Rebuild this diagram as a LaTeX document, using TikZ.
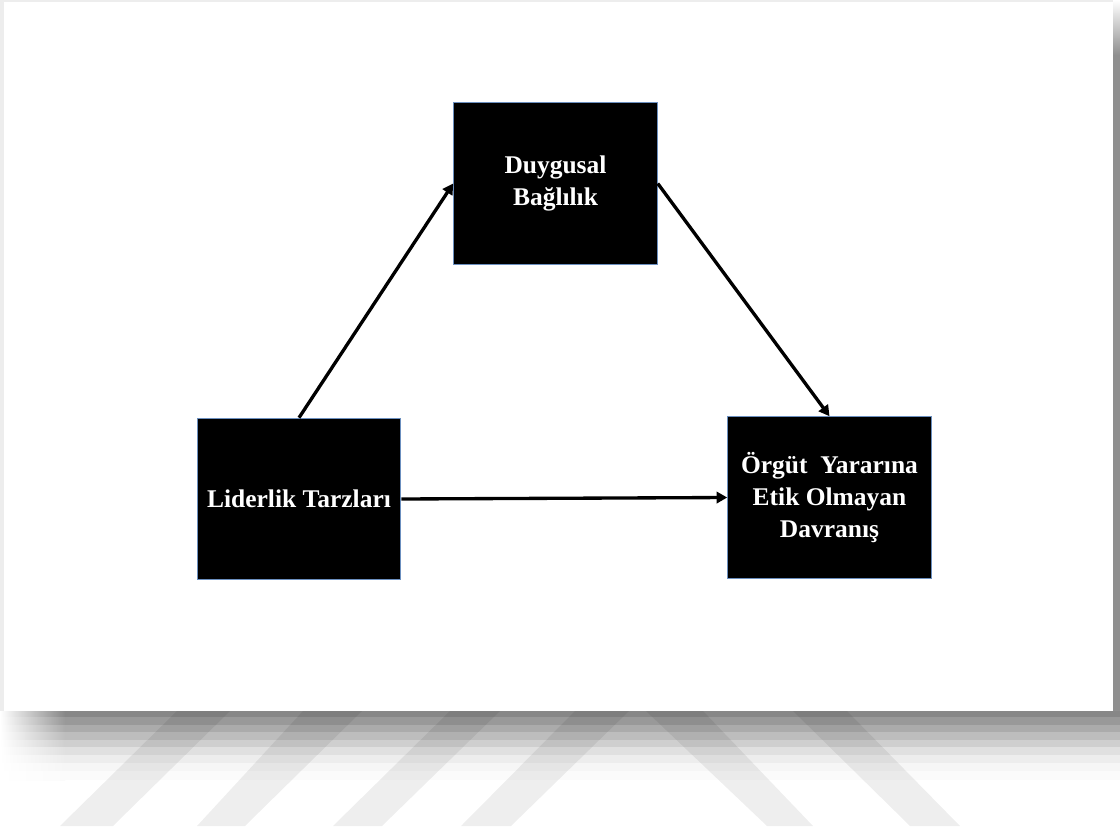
\documentclass[tikz,border=0pt]{standalone}
\usepackage{fontspec}
\setmainfont{Liberation Serif}
\usetikzlibrary{arrows.meta}
\definecolor{boxedge}{HTML}{6B8FBF}
\tikzset{
  conceptbox/.style={draw=boxedge, line width=0.9pt, fill=black, text=white,
    font=\bfseries\fontsize{19.1}{24}\selectfont, align=center, inner sep=0pt,
    minimum width=152.5pt, minimum height=121pt},
  link/.style={line width=2.5pt, -{Triangle[length=8pt,width=8.5pt]}},
  stripe/.style={fill=black, fill opacity=0.065},
}
\begin{document}
\begin{tikzpicture}[x=0.75pt,y=-0.75pt]
\useasboundingbox (0,0) rectangle (1120,831);
\fill[white] (0,0) rectangle (1120,831);

% drop shadow of the sheet: right edge
\shade[top color=white, bottom color=black!44] (1113,0) rectangle (1120,55);
\fill[black!44] (1113,55) rectangle (1120,711);

% drop shadow of the sheet: stepped bands under the bottom edge
\foreach \ya/\yb/\g in {711/717/47, 717/725/40, 725/732/33, 732/740/26,
                        740/747/19, 747/755/12, 755/763/7, 763/771/3.5, 771/780/1.5} {
  \fill[black!\g] (65,\ya) rectangle (1120,\yb);
  \shade[left color=white, right color=black!\g] (0,\ya) rectangle (65,\yb);
}

% faint diagonal stripes below the sheet
\fill[stripe] (60,826) -- (113,826) -- (230,711) -- (177,711) -- cycle;
\fill[stripe] (197,826) -- (245,826) -- (362,711) -- (303,711) -- cycle;
\fill[stripe] (333,826) -- (382,826) -- (500,711) -- (450,711) -- cycle;
\fill[stripe] (461,826) -- (511,826) -- (629,711) -- (575,711) -- cycle;
\fill[stripe] (767,826) -- (813,826) -- (703,711) -- (646,711) -- cycle;
\fill[stripe] (910,826) -- (960,826) -- (847,711) -- (793,711) -- cycle;

% the sheet
\fill[black!7] (0,0) rectangle (1113,711);
\fill[white] (4,2) rectangle (1113,711);

% concept boxes
\node[conceptbox] (bag) at (555.5,183.5) {Duygusal\\Bağlılık};
\node[conceptbox] (lid) at (299,499) {Liderlik Tarzları};
\node[conceptbox] (etik) at (829.5,497.5) {Örgüt~~Yararına\\Etik Olmayan\\Davranış};

% relations
\draw[link] (lid.north) -- (bag.west);
\draw[link] (bag.east) -- (etik.north);
\draw[link] (lid.east) -- (etik.west);
\end{tikzpicture}
\end{document}
